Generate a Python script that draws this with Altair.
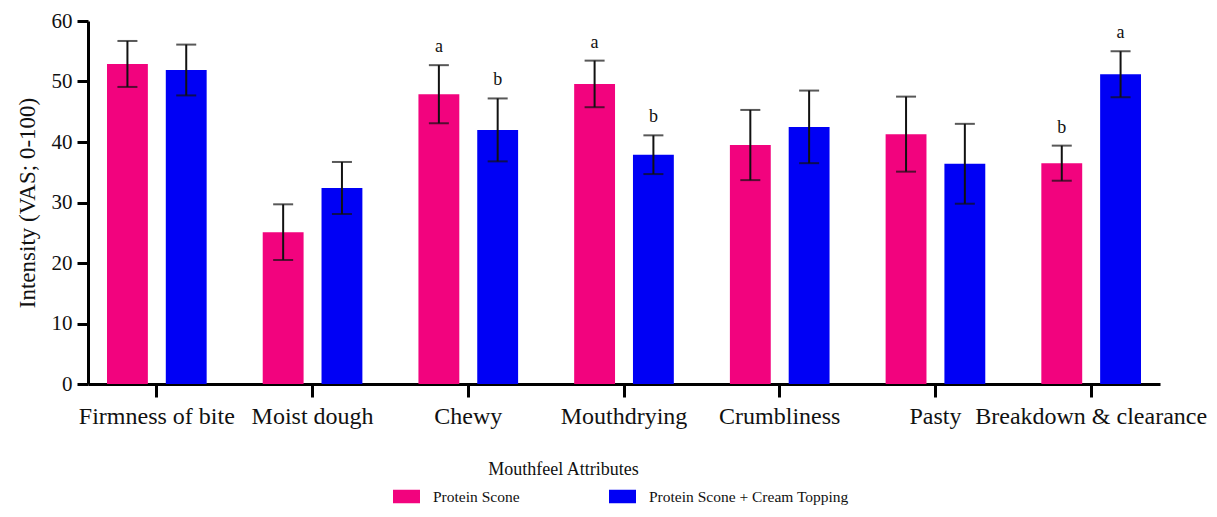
import altair as alt
import pandas as pd

attributes = ["Firmness of bite", "Moist dough", "Chewy", "Mouthdrying",
              "Crumbliness", "Pasty", "Breakdown & clearance"]
series = ["Protein Scone", "Protein Scone + Cream Topping"]
ps_mean = [52.9, 25.1, 47.9, 49.6, 39.5, 41.3, 36.5]
ps_sd = [3.8, 4.6, 4.8, 3.85, 5.8, 6.2, 2.9]
ct_mean = [51.9, 32.4, 42.0, 37.9, 42.5, 36.4, 51.2]
ct_sd = [4.2, 4.3, 5.2, 3.2, 6.0, 6.6, 3.8]
ps_letter = ["", "", "a", "a", "", "", "b"]
ct_letter = ["", "", "b", "b", "", "", "a"]
colors = ["#F2037E", "#0000F5"]

rows = []
for i, a in enumerate(attributes):
    rows.append(dict(attr=a, group=series[0], mean=ps_mean[i], sd=ps_sd[i], letter=ps_letter[i]))
    rows.append(dict(attr=a, group=series[1], mean=ct_mean[i], sd=ct_sd[i], letter=ct_letter[i]))
df = pd.DataFrame(rows)
df["lo"] = df["mean"] - df["sd"]
df["hi"] = df["mean"] + df["sd"]

FONT = "Liberation Serif"

x = alt.X("attr:N", sort=attributes,
          scale=alt.Scale(paddingInner=0.36, paddingOuter=0.122),
          axis=alt.Axis(title="Mouthfeel Attributes", labelAngle=0, labelFontSize=24,
                        labelFont=FONT, labelColor="#111", labelPadding=7,
                        tickSize=13, tickWidth=3, tickColor="black",
                        domainWidth=3, domainColor="black",
                        titleFont=FONT, titleFontSize=18, titleFontWeight="normal",
                        titleColor="#111", titleX=475, titleY=76, titleAlign="center",
                        labelLimit=400))
xo = alt.XOffset("group:N", sort=series,
                 scale=alt.Scale(paddingInner=0.305, paddingOuter=0))
yscale = alt.Scale(domain=[0, 60])

base = alt.Chart(df)

bars = base.mark_bar().encode(
    x=x, xOffset=xo,
    y=alt.Y("mean:Q", scale=yscale,
            axis=alt.Axis(title="Intensity (VAS; 0-100)", values=[0, 10, 20, 30, 40, 50, 60],
                          grid=False, labelFont=FONT, labelFontSize=21, labelColor="#111",
                          labelPadding=5, tickSize=11, tickWidth=3, tickColor="black",
                          domainWidth=3, domainColor="black",
                          titleFont=FONT, titleFontSize=23, titleFontWeight="normal",
                          titleColor="#111", titlePadding=12)),
    color=alt.Color("group:N", sort=series,
                    scale=alt.Scale(domain=series, range=colors),
                    legend=alt.Legend(title=None, orient="none", legendX=305, legendY=462,
                                      direction="horizontal",
                                      symbolType="M-1,-0.5H1V0.5H-1Z", symbolSize=729,
                                      symbolStrokeWidth=0, labelFont=FONT, labelFontSize=15.5,
                                      labelColor="#111", labelOffset=13, columnPadding=89,
                                      labelLimit=400)),
)

rules = base.mark_rule(color="#111", strokeWidth=2).encode(
    x=x, xOffset=xo, y=alt.Y("lo:Q", scale=yscale), y2="hi:Q")

caps_hi = base.mark_tick(color="#111", thickness=2, size=20, orient="horizontal").encode(
    x=x, xOffset=xo, y=alt.Y("hi:Q", scale=yscale))
caps_lo = base.mark_tick(color="#111", thickness=2, size=20, orient="horizontal").encode(
    x=x, xOffset=xo, y=alt.Y("lo:Q", scale=yscale))

letters = base.transform_filter(alt.datum.letter != "").mark_text(
    font=FONT, fontSize=18, color="#111", dy=-13, baseline="alphabetic").encode(
    x=x, xOffset=xo, y=alt.Y("hi:Q", scale=yscale), text="letter:N")

chart = alt.layer(bars, rules, caps_hi, caps_lo, letters).properties(
    width=1072, height=363,
    autosize=alt.AutoSizeParams(type="none"),
    padding={"left": 80, "top": 13, "right": 49, "bottom": 125},
    background="white",
).configure_view(stroke=None)

chart.save("out.html", embed_options={"renderer": "svg", "actions": False})
